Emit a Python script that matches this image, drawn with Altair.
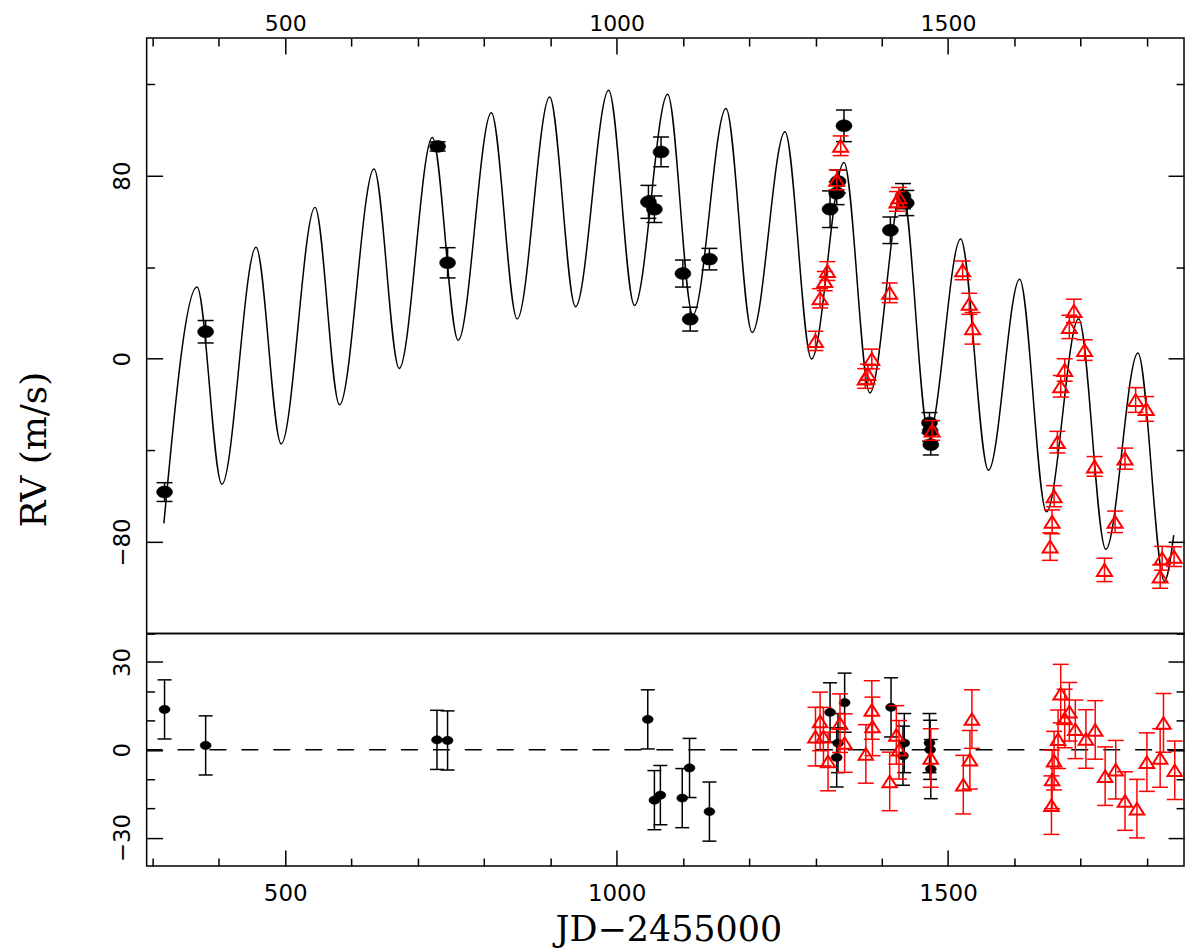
import altair as alt
import pandas as pd

# ---------------- data ----------------
# model curve: turning points (JD-2455000, RV m/s)
model_jd = [317, 367, 404.5, 456, 494, 545, 582, 634, 672, 722, 761, 811, 850, 899, 938,
            988, 1027, 1077, 1115, 1165, 1204.5, 1254, 1294, 1343, 1382, 1431, 1471, 1519,
            1561, 1608, 1648.5, 1697, 1738, 1786.5, 1826.5, 1840.5]
model_rv = [-71.9, 31.3, -54.8, 48.7, -37.2, 66.1, -20.1, 82.9, -4.2, 96.6, 8.1, 107.4, 17.4,
            114.3, 22.7, 117.2, 23.3, 115.5, 19.1, 109.3, 11.5, 99.1, -0.1, 85.7, -14.9, 74.0,
            -33.0, 52.3, -48.7, 34.7, -66.8, 17.5, -83.2, 2.5, -97.2, -77.0]

# black filled circles (top panel)
bk_jd = [318, 380, 730, 745, 1048, 1057, 1067, 1100, 1111, 1140, 1322, 1332, 1334, 1343,
         1413, 1432, 1437, 1472, 1473, 1474]
bk_rv = [-58.2, 11.8, 92.7, 41.9, 68.5, 65.3, 90.3, 37.2, 17.3, 43.5, 65.3, 72.3, 77.4,
         101.7, 56.1, 71.0, 68.0, -28.0, -31.5, -37.5]
bk_err = [4.1, 4.9, 2.0, 6.6, 7.2, 5.8, 6.5, 5.9, 5.2, 4.7, 8.0, 5.0, 5.0, 6.9, 5.8, 5.5,
          5.5, 4.5, 4.5, 4.5]

# red open triangles (top panel)
rd_jd = [1300, 1307, 1314, 1318, 1332, 1338, 1375, 1379, 1385, 1412, 1423, 1426, 1476, 1522,
         1532, 1537, 1654, 1657, 1660, 1665, 1670, 1676, 1683, 1690, 1706, 1721, 1736, 1752,
         1767, 1783, 1799, 1820, 1823, 1841]
rd_rv = [7.8, 26.4, 33.9, 38.3, 78.1, 93.0, -8.6, -6.7, -0.1, 28.8, 68.7, 70.5, -31.3, 38.6,
         24.0, 13.3, -82.0, -71.2, -60.0, -36.4, -12.0, -4.9, 13.9, 20.9, 3.8, -47.0, -92.2,
         -71.2, -43.6, -18.0, -21.9, -95.1, -87.1, -86.4]
rd_err = [4.2, 4.2, 4.2, 4.1, 4.3, 4.3, 4.3, 4.3, 4.3, 4.3, 4.3, 4.3, 4.3, 4.1, 4.6, 6.9,
          6.0, 5.2, 4.6, 4.7, 4.7, 4.9, 5.1, 5.1, 4.5, 4.3, 5.1, 4.7, 4.6, 5.4, 5.4, 5.1,
          5.2, 4.3]

# residuals (bottom panel)
bk_res_jd = [318, 380, 729, 745, 1047, 1057, 1066, 1099, 1110, 1140, 1322, 1332, 1334, 1344,
             1414, 1432, 1434, 1472, 1473, 1474]
bk_res = [13.8, 1.5, 3.4, 3.2, 10.4, -17.2, -15.5, -16.5, -6.2, -21.1, 12.8, -2.6, 2.3,
          16.1, 14.5, -2.0, 2.3, 2.3, 0.0, -6.6]
bk_res_err = [10.1, 10.1, 10.1, 10.1, 10.1, 10.1, 10.1, 10.1, 10.1, 10.1, 10.1, 10.1, 10.1,
              10.1, 10.1, 10.1, 10.1, 10.1, 10.1, 10.1]

rd_res_jd = [1300, 1307, 1312, 1319, 1337, 1344, 1376, 1385, 1386, 1412, 1422, 1426, 1474,
             1523, 1533, 1536, 1656, 1657, 1660, 1666, 1670, 1676, 1683, 1692, 1708, 1722,
             1737, 1753, 1767, 1785, 1800, 1820, 1825, 1842]
rd_res = [4.5, 9.7, 4.5, -4.0, 9.1, 2.3, -1.4, 13.6, 8.0, -10.8, 5.1, 0.0, -2.8, -11.9, -3.4,
          10.5, -18.9, -10.1, -3.7, 3.6, 19.2, 10.7, 13.0, 7.0, 3.7, 6.8, -9.0, -6.8, -17.5,
          -20.1, -4.2, -2.8, 9.2, -7.0]
rd_res_err = [10.0] * len(rd_res)

zero_line = [0]

x_major = [500, 1000, 1500]
x_minor = [300, 400, 600, 700, 800, 900, 1100, 1200, 1300, 1400, 1600, 1700, 1800]
y_top_major = [-80, 0, 80]
y_top_minor = [-120, -40, 40, 120]
y_bot_major = [-30, 0, 30]
y_bot_minor = [-40, -20, -10, 10, 20, 40]

# ---------------- tables ----------------
def table(jd, val, err):
    d = pd.DataFrame({"jd": jd, "v": val, "e": err})
    d["lo"] = d["v"] - d["e"]
    d["hi"] = d["v"] + d["e"]
    return d

df_model = pd.DataFrame({"jd": model_jd, "v": model_rv})
df_bk = table(bk_jd, bk_rv, bk_err)
df_rd = table(rd_jd, rd_rv, rd_err)
df_bk_res = table(bk_res_jd, bk_res, bk_res_err)
df_rd_res = table(rd_res_jd, rd_res, rd_res_err)
df_zero = pd.DataFrame({"v": zero_line})

# ---------------- styling ----------------
SANS = "DejaVu Sans"
SERIF = "DejaVu Serif"
W = 1040
H_TOP = 597
H_BOT = 233
MAJ = 16
MIN = 8

xs = alt.Scale(domain=[291, 1856], nice=False, zero=False)
ys_top = alt.Scale(domain=[-120, 140], nice=False, zero=False)
ys_bot = alt.Scale(domain=[-39.7, 39.7], nice=False, zero=False)

ELLIPSE = ("M -1 0 C -1 -0.414 -0.552 -0.75 0 -0.75 C 0.552 -0.75 1 -0.414 1 0 "
           "C 1 0.414 0.552 0.75 0 0.75 C -0.552 0.75 -1 0.414 -1 0 Z")
TRIANGLE = "M -1 0.8 L 1 0.8 L 0 -0.8 Z"

common = dict(grid=False, domain=False, tickColor="black", tickWidth=1.5,
              labelFont=SANS, labelColor="black", labelFlush=False,
              labelOverlap=False, format="d")


def minor_axis(orient, values):
    return alt.Axis(orient=orient, values=values, title=None, labels=False,
                    tickSize=MIN, offset=-MIN, **common)


ax_x_top = alt.Axis(orient="top", values=x_major, title=None, tickSize=MAJ, offset=-MAJ,
                    labelFontSize=22, labelPadding=8, labelBaseline="alphabetic", **common)
ax_x_top_m = minor_axis("top", x_minor)
ax_x_bot = alt.Axis(orient="bottom", values=x_major, title="JD\u22122455000",
                    tickSize=MAJ, offset=-MAJ, labelFontSize=23,
                    labelPadding=35, labelBaseline="alphabetic",
                    titleFont=SERIF, titleFontSize=35, titleFontWeight="normal",
                    titleColor="black", titleX=W / 2 + 3, titleY=75 + MAJ, titleAlign="center",
                    titleBaseline="alphabetic", titleAngle=0, **common)
ax_x_bot_m = minor_axis("bottom", x_minor)
ax_yl_top = alt.Axis(orient="left", values=y_top_major, title="RV (m/s)",
                     tickSize=MAJ, offset=-MAJ, labelFontSize=23,
                     labelAngle=-90, labelAlign="center", labelBaseline="alphabetic",
                     labelPadding=17,
                     titleFont=SERIF, titleFontSize=36, titleFontWeight="normal",
                     titleColor="black", titleAngle=270, titleX=-101 - MAJ, titleY=412,
                     titleAlign="center", titleBaseline="alphabetic", **common)
ax_yl_top_m = minor_axis("left", y_top_minor)
ax_yr_top = alt.Axis(orient="right", values=y_top_major, title=None, labels=False,
                     tickSize=MAJ, offset=-MAJ, **common)
ax_yr_top_m = minor_axis("right", y_top_minor)
ax_yl_bot = alt.Axis(orient="left", values=y_bot_major, title=None,
                     tickSize=MAJ, offset=-MAJ, labelFontSize=23,
                     labelAngle=-90, labelAlign="center", labelBaseline="alphabetic",
                     labelPadding=17, **common)
ax_yl_bot_m = minor_axis("left", y_bot_minor)
ax_yr_bot = alt.Axis(orient="right", values=y_bot_major, title=None, labels=False,
                     tickSize=MAJ, offset=-MAJ, **common)
ax_yr_bot_m = minor_axis("right", y_bot_minor)


def err_layers(df, ys, color, cap, axes_rule=(None, None), axes_cap=(None, None)):
    base = alt.Chart(df)
    rule = base.mark_rule(color=color, strokeWidth=1.5).encode(
        x=alt.X("jd:Q", scale=xs, axis=axes_rule[0]),
        y=alt.Y("lo:Q", scale=ys, axis=axes_rule[1]),
        y2="hi:Q",
    )
    caps = base.transform_fold(["lo", "hi"], as_=["k", "cv"]).mark_tick(
        color=color, orient="horizontal", size=cap, thickness=1.5, opacity=1
    ).encode(
        x=alt.X("jd:Q", scale=xs, axis=axes_cap[0]),
        y=alt.Y("cv:Q", scale=ys, axis=axes_cap[1]),
    )
    return [rule, caps]


def pts(df, ys, shape, size, color, filled):
    kw = dict(shape=shape, size=size, opacity=1, filled=filled)
    if filled:
        kw.update(fill=color, stroke=color, strokeWidth=0.5)
    else:
        kw.update(stroke=color, strokeWidth=2)
    return alt.Chart(df).mark_point(**kw).encode(
        x=alt.X("jd:Q", scale=xs, axis=None),
        y=alt.Y("v:Q", scale=ys, axis=None),
    )


# ---------------- top panel ----------------
curve = alt.Chart(df_model).mark_line(
    color="black", strokeWidth=1.5, interpolate="monotone"
).encode(
    x=alt.X("jd:Q", scale=xs, axis=ax_x_top),
    y=alt.Y("v:Q", scale=ys_top, axis=ax_yl_top),
)

top = alt.layer(
    curve,
    *err_layers(df_bk, ys_top, "black", 16,
                axes_rule=(ax_x_top_m, ax_yl_top_m), axes_cap=(None, ax_yr_top)),
    pts(df_bk, ys_top, ELLIPSE, 256, "black", True),
    *err_layers(df_rd, ys_top, "red", 16, axes_rule=(None, ax_yr_top_m)),
    pts(df_rd, ys_top, TRIANGLE, 225, "red", False),
).resolve_axis(x="independent", y="independent").properties(width=W, height=H_TOP)

# ---------------- bottom panel ----------------
zero = alt.Chart(df_zero).mark_rule(
    color="black", strokeWidth=1.5, strokeDash=[17, 15]
).encode(y=alt.Y("v:Q", scale=ys_bot, axis=None))

bottom = alt.layer(
    zero,
    *err_layers(df_bk_res, ys_bot, "black", 14,
                axes_rule=(ax_x_bot, ax_yl_bot), axes_cap=(ax_x_bot_m, ax_yl_bot_m)),
    pts(df_bk_res, ys_bot, ELLIPSE, 121, "black", True),
    *err_layers(df_rd_res, ys_bot, "red", 16,
                axes_rule=(None, ax_yr_bot), axes_cap=(None, ax_yr_bot_m)),
    pts(df_rd_res, ys_bot, TRIANGLE, 210, "red", False),
).resolve_axis(x="independent", y="independent").properties(width=W, height=H_BOT)

chart = alt.vconcat(top, bottom, spacing=0, bounds="flush").properties(
    padding={"left": 8, "top": 2, "right": 5, "bottom": 0},
    background="white",
).configure_view(stroke="black", strokeWidth=1.5)

chart.save("out.html", embed_options={"renderer": "svg", "actions": False})
